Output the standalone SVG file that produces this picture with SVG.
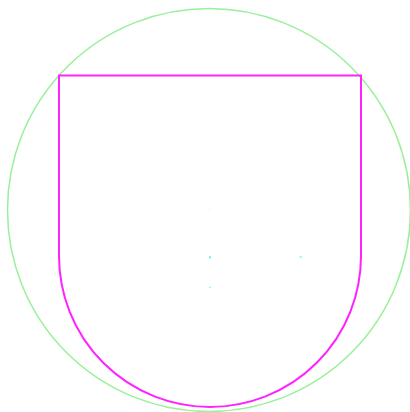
<svg xmlns="http://www.w3.org/2000/svg" width="410" height="412" viewBox="0 0 410 412">
<style>
.dot{fill:#5ff5f5}
</style>
<rect width="410" height="412" fill="#fff"/>
<g id="circle"><circle cx="209" cy="210" r="201.5" fill="none" stroke="#98f098" stroke-width="1.5"/></g>
<g id="shield"><path d="M59,75.5 H361 V256 A151,151 0 0 1 59,256 Z" fill="none" stroke="#ff22ff" stroke-width="2"/></g>
<g id="points">
<rect class="dot" x="209" y="256.3" width="2" height="2"/>
<rect class="dot" x="299.7" y="256" width="2" height="2" opacity="0.7"/>
<rect class="dot" x="209" y="286.7" width="1.8" height="1.5" opacity="0.7"/>
<rect x="208.5" y="208.8" width="1" height="1" fill="#a0f0c0" opacity="0.4"/>
</g>
</svg>
